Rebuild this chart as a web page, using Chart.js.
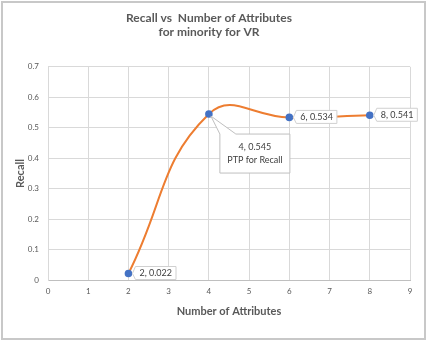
<!DOCTYPE html>
<html lang="en">
<head>
  <meta charset="UTF-8">
  <title>Recall vs Number of Attributes</title>
  <script src="https://cdn.jsdelivr.net/npm/chart.js"></script>
  <style>
    html, body {
      margin: 0;
      padding: 0;
      background: #ffffff;
    }

    .chart-container {
      width: 427px;
      height: 341px;
      position: relative;
    }
  </style>
</head>
<body>

<div class="chart-container">
  <canvas id="recallChart"></canvas>
</div>

<script>
  // data
  const attributes = [2, 4, 6, 8];
  const recall = [0.022, 0.545, 0.534, 0.541];
  const pointLabels = ['2, 0.022', '4, 0.545', '6, 0.534', '8, 0.541'];
  const calloutText = 'PTP for Recall';
  const calloutIndex = 1;

  const grey = '#595959';
  const fontFamily = 'Lato, "Open Sans", sans-serif';

  // frame + data label boxes
  const labelPlugin = {
    id: 'labelBoxes',
    beforeDraw(chart) {
      const c = chart.ctx;
      c.save();
      c.strokeStyle = '#c8c8c8';
      c.lineWidth = 2;
      c.strokeRect(2, 2, chart.width - 4, chart.height - 4);
      c.restore();
    },
    afterDatasetsDraw(chart) {
      const c = chart.ctx;
      const meta = chart.getDatasetMeta(0);
      c.save();
      c.font = '9px ' + fontFamily;
      c.textBaseline = 'middle';
      meta.data.forEach((pt, i) => {
        if (i === calloutIndex) {
          const bx = pt.x + 11, by = pt.y + 20, bw = 70, bh = 39;
          c.fillStyle = '#ffffff';
          c.strokeStyle = '#bfbfbf';
          c.lineWidth = 1;
          c.beginPath();
          c.moveTo(bx, by);
          c.lineTo(pt.x + 2, pt.y + 2);
          c.lineTo(bx + 16, by);
          c.lineTo(bx + bw, by);
          c.lineTo(bx + bw, by + bh);
          c.lineTo(bx, by + bh);
          c.closePath();
          c.fill();
          c.stroke();
          c.fillStyle = '#404040';
          c.textAlign = 'center';
          c.fillText(pointLabels[i], bx + bw / 2, by + 13);
          c.fillText(calloutText, bx + bw / 2, by + 26);
        } else {
          const text = pointLabels[i];
          const w = c.measureText(text).width + 8;
          const bx = pt.x + 4, by = pt.y - 7, bh = 13;
          c.fillStyle = '#ffffff';
          c.strokeStyle = '#d0d0d0';
          c.lineWidth = 1;
          c.beginPath();
          c.moveTo(bx, pt.y);
          c.lineTo(bx + 3, by);
          c.lineTo(bx + 3 + w, by);
          c.lineTo(bx + 3 + w, by + bh);
          c.lineTo(bx + 3, by + bh);
          c.closePath();
          c.fill();
          c.stroke();
          c.fillStyle = '#404040';
          c.textAlign = 'left';
          c.fillText(text, bx + 7, pt.y);
        }
      });
      c.restore();
    }
  };

  const ctx = document.getElementById('recallChart').getContext('2d');

  new Chart(ctx, {
    type: 'scatter',
    data: {
      datasets: [{
        label: 'Recall',
        data: attributes.map((x, i) => ({ x: x, y: recall[i] })),
        showLine: true,
        borderColor: '#ed7d31',
        borderWidth: 2,
        tension: 0.45,
        pointBackgroundColor: '#4472c4',
        pointBorderColor: '#4472c4',
        pointRadius: 2.8
      }]
    },
    options: {
      responsive: true,
      maintainAspectRatio: false,
      animation: false,
      layout: {
        padding: { left: 8, right: 17, top: 4, bottom: 19 }
      },
      scales: {
        x: {
          type: 'linear',
          min: 0,
          max: 9,
          ticks: {
            stepSize: 1,
            color: grey,
            padding: 6,
            font: { size: 8, family: fontFamily }
          },
          grid: { color: '#d9d9d9', drawTicks: false },
          border: { color: '#bfbfbf' },
          title: {
            display: true,
            text: 'Number of Attributes',
            color: grey,
            padding: { top: 3, bottom: 4 },
            font: { size: 11, weight: 'bold', family: fontFamily }
          }
        },
        y: {
          min: 0,
          max: 0.7,
          afterFit: scale => { scale.width = 40; },
          ticks: {
            stepSize: 0.1,
            color: grey,
            padding: 9,
            font: { size: 8, family: fontFamily }
          },
          grid: { color: '#d9d9d9', drawTicks: false },
          border: { color: '#d9d9d9' },
          title: {
            display: true,
            text: 'Recall',
            color: grey,
            padding: { top: 6, bottom: 4 },
            font: { size: 11, weight: 'bold', family: fontFamily }
          }
        }
      },
      plugins: {
        legend: { display: false },
        tooltip: { enabled: false },
        title: {
          display: true,
          text: ['Recall vs  Number of Attributes', 'for minority for VR'],
          color: grey,
          font: { size: 12, weight: 'bold', family: fontFamily },
          padding: { top: 7, bottom: 27 }
        }
      }
    },
    plugins: [labelPlugin]
  });
</script>

</body>
</html>
